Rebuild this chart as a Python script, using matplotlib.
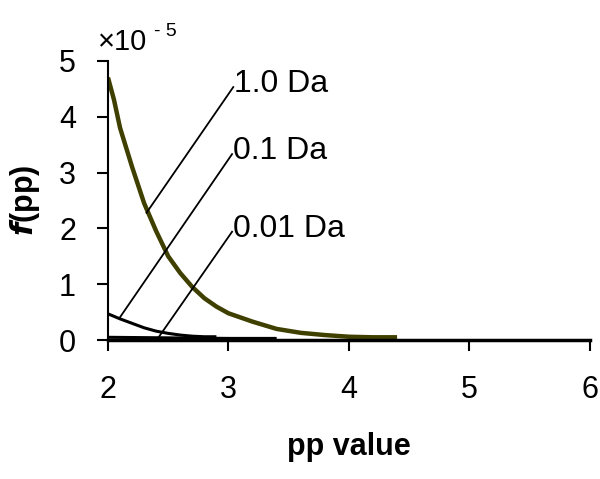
import numpy as np
import matplotlib
matplotlib.use('Agg')
import matplotlib.pyplot as plt

plt.rcParams['font.family'] = ['Liberation Sans', 'DejaVu Sans']

# ═══ Data (values in units of 1e-5) ═══
x_10 = [2.0, 2.05, 2.1, 2.2, 2.3, 2.4, 2.5, 2.6, 2.7, 2.8, 2.9, 3.0,
        3.2, 3.4, 3.6, 3.8, 4.0, 4.2, 4.4]
y_10 = [4.7, 4.3, 3.8, 3.1, 2.45, 1.95, 1.5, 1.2, 0.95, 0.75, 0.6, 0.48,
        0.33, 0.2, 0.13, 0.09, 0.06, 0.05, 0.05]

x_01 = [2.0, 2.1, 2.2, 2.3, 2.4, 2.5, 2.6, 2.7, 2.8, 2.9]
y_01 = [0.47, 0.38, 0.3, 0.22, 0.16, 0.12, 0.09, 0.07, 0.06, 0.06]

x_001 = [2.0, 2.5, 3.0, 3.4]
y_001 = [0.05, 0.04, 0.03, 0.03]

labels = ['1.0 Da', '0.1 Da', '0.01 Da']
label_pos = [(3.04, 4.53), (3.03, 3.33), (3.03, 1.94)]
label_tip = [(2.32, 2.28), (2.10, 0.41), (2.42, 0.05)]

fig = plt.figure(figsize=(6, 4.79), dpi=100)
ax = fig.add_axes([0.18, 0.29, 0.803, 0.583])

ax.plot(x_001, y_001, color='black', linewidth=2.2, solid_capstyle='butt')
ax.plot(x_01, y_01, color='black', linewidth=2.2, solid_capstyle='butt')
ax.plot(x_10, y_10, color='#3f3f00', linewidth=3.2, solid_capstyle='butt')

for lab, (tx, ty), (px, py) in zip(labels, label_pos, label_tip):
    ax.plot([px, tx], [py, ty], color='black', linewidth=1.3)
    ax.text(tx + 0.01, ty + 0.05, lab, fontsize=23, va='center', ha='left')

ax.set_xlim(2, 6)
ax.set_ylim(0, 5)
ax.set_xticks([2, 3, 4, 5, 6])
ax.set_yticks([0, 1, 2, 3, 4, 5])
ax.tick_params(labelsize=22, length=8, width=1.5, direction='out')
ax.tick_params(axis='x', pad=17)
ax.tick_params(axis='y', pad=15)

ax.spines['top'].set_visible(False)
ax.spines['right'].set_visible(False)
ax.spines['left'].set_linewidth(1.5)
ax.spines['bottom'].set_linewidth(2.5)

ax.set_xlabel('pp value', fontsize=22, fontweight='bold')
ax.xaxis.set_label_coords(0.5, -0.33)
ax.set_ylabel(r'$\boldsymbol{f}$(pp)', fontsize=22, fontweight='bold')
ax.yaxis.set_label_coords(-0.137, 0.5)

# scale marker
fig.text(0.163, 0.912, '×10', fontsize=21, va='center')
fig.text(0.257, 0.935, '- 5', fontsize=14, va='center')

fig.savefig('out.png', dpi=100)
